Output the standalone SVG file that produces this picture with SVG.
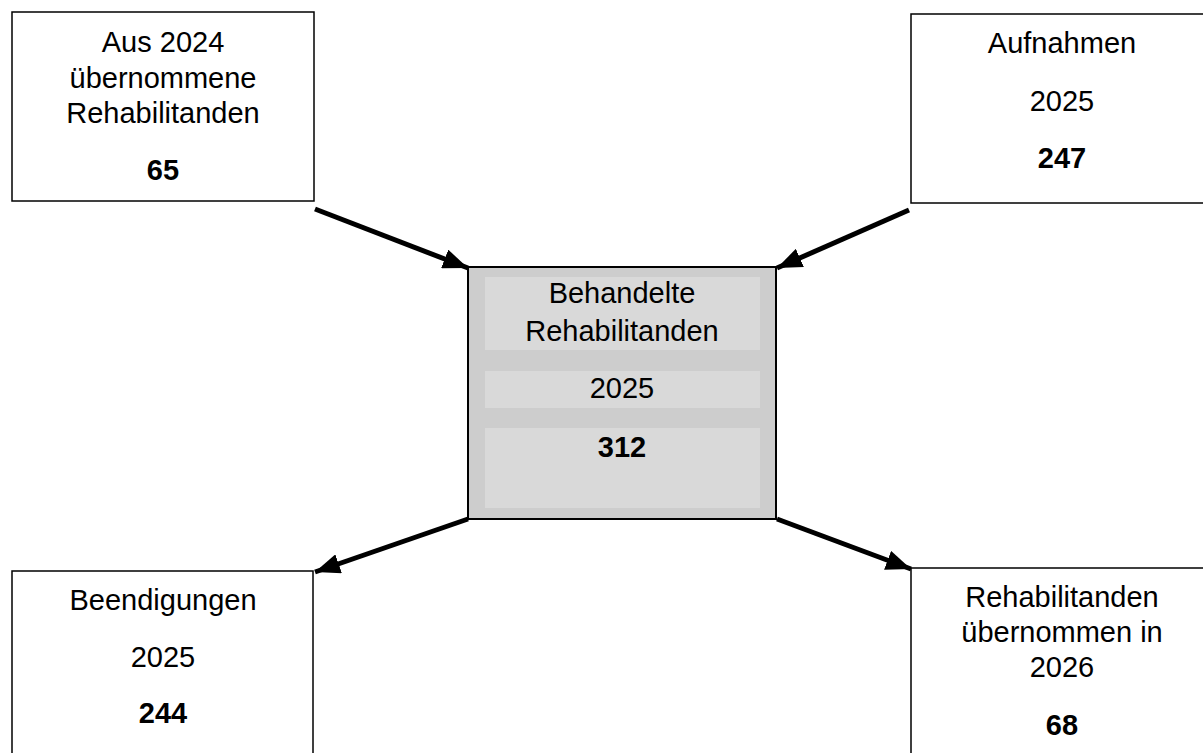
<svg xmlns="http://www.w3.org/2000/svg" width="1203" height="753" viewBox="0 0 1203 753">
<defs>
<style>
.box{fill:#ffffff;stroke:#000000;stroke-width:1.5}
.t{font-family:"Liberation Sans",Arial,sans-serif;font-size:29px;fill:#000000;text-anchor:middle}
.b{font-weight:bold}
.conn{stroke:#000000;stroke-width:5;fill:none}
.inner{fill:#d9d9d9}
</style>
<marker id="ah" markerWidth="5" markerHeight="4" refX="5" refY="2" orient="auto" markerUnits="strokeWidth">
<path d="M0,0 L5,2 L0,4 Z" fill="#000000"/>
</marker>
</defs>
<rect width="1203" height="753" fill="#ffffff"/>
<g id="connectors">
<line class="conn" x1="315" y1="209" x2="468" y2="268" marker-end="url(#ah)"/>
<line class="conn" x1="909" y1="210" x2="777" y2="268" marker-end="url(#ah)"/>
<line class="conn" x1="468" y1="519" x2="315" y2="572" marker-end="url(#ah)"/>
<line class="conn" x1="777" y1="519" x2="911" y2="569" marker-end="url(#ah)"/>
</g>
<g id="node-uebernommen-2024">
<rect class="box" x="12" y="12" width="302" height="189"/>
<text class="t" x="163" y="52">Aus 2024</text>
<text class="t" x="163" y="88">übernommene</text>
<text class="t" x="163" y="123">Rehabilitanden</text>
<text class="t b" x="163" y="180">65</text>
</g>
<g id="node-aufnahmen">
<rect class="box" x="911" y="14" width="302" height="189"/>
<text class="t" x="1062" y="53">Aufnahmen</text>
<text class="t" x="1062" y="111">2025</text>
<text class="t b" x="1062" y="168">247</text>
</g>
<g id="node-behandelte">
<rect x="468" y="267" width="308" height="252" fill="#cdcdcd" stroke="#000000" stroke-width="2"/>
<rect class="inner" x="485" y="277" width="275" height="73"/>
<rect class="inner" x="485" y="371" width="275" height="37"/>
<rect class="inner" x="485" y="428" width="275" height="80"/>
<text class="t" x="622" y="303">Behandelte</text>
<text class="t" x="622" y="341">Rehabilitanden</text>
<text class="t" x="622" y="398">2025</text>
<text class="t b" x="622" y="457">312</text>
</g>
<g id="node-beendigungen">
<rect class="box" x="12" y="571" width="301" height="200"/>
<text class="t" x="163" y="610">Beendigungen</text>
<text class="t" x="163" y="667">2025</text>
<text class="t b" x="163" y="723">244</text>
</g>
<g id="node-uebernommen-2026">
<rect class="box" x="911" y="568" width="302" height="200"/>
<text class="t" x="1062" y="607">Rehabilitanden</text>
<text class="t" x="1062" y="642">übernommen in</text>
<text class="t" x="1062" y="677">2026</text>
<text class="t b" x="1062" y="735">68</text>
</g>
</svg>
